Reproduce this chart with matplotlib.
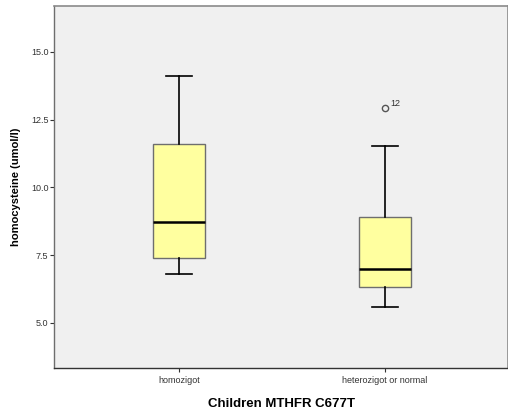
import matplotlib
matplotlib.use("Agg")
import matplotlib.pyplot as plt

plt.rcParams['font.family'] = ['Liberation Sans', 'DejaVu Sans']

# group labels and box statistics
groups = ['homozigot', 'heterozigot or normal']
whislo = [6.79, 5.57]
q1 = [7.38, 6.33]
med = [8.70, 7.00]
q3 = [11.60, 8.90]
whishi = [14.11, 11.51]
fliers = [[], [12.91]]
flier_ids = [[], ['12']]

yticks = [5.0, 7.5, 10.0, 12.5, 15.0]

fig = plt.figure(figsize=(5.08, 4.13), dpi=100)
ax = fig.add_axes([54 / 508, 45 / 413, 454 / 508, 362 / 413])
ax.set_facecolor('#f0f0f0')

stats = []
for i in range(len(groups)):
    stats.append(dict(label=groups[i], whislo=whislo[i], q1=q1[i], med=med[i],
                      q3=q3[i], whishi=whishi[i], fliers=fliers[i]))

positions = [1, 2]
ax.bxp(stats, positions=positions, widths=0.253, patch_artist=True,
       boxprops=dict(facecolor='#ffff9f', edgecolor='#6e6e6e', linewidth=1.0),
       medianprops=dict(color='black', linewidth=1.8),
       whiskerprops=dict(color='black', linewidth=1.2),
       capprops=dict(color='black', linewidth=1.2),
       capwidths=0.125,
       flierprops=dict(marker='o', markersize=4.5, markerfacecolor='none',
                       markeredgecolor='#555555', markeredgewidth=1.0))

for pos, vals, ids in zip(positions, fliers, flier_ids):
    for v, t in zip(vals, ids):
        ax.annotate(t, (pos, v), xytext=(4, 2), textcoords='offset points',
                    fontsize=6.5, color='#333333')

ax.set_xlim(0.391, 2.598)
ax.set_ylim(3.33, 16.69)
ax.set_yticks(yticks)
ax.set_yticklabels([f'{t:.1f}' for t in yticks])
ax.set_xticks(positions)
ax.set_xticklabels(groups)
ax.tick_params(axis='both', labelsize=6.5, colors='#333333', length=3, width=0.8)
ax.tick_params(axis='y', pad=1)
ax.tick_params(axis='x', pad=3)

for s in ['top', 'right']:
    ax.spines[s].set_color('#8a8a8a')
    ax.spines[s].set_linewidth(1.2)
ax.spines['left'].set_color('#6e6e6e')
ax.spines['left'].set_linewidth(1.0)
ax.spines['bottom'].set_color('#333333')
ax.spines['bottom'].set_linewidth(1.0)

ax.set_ylabel('homocysteine (umol/l)', fontsize=8, fontweight='bold', labelpad=7)
ax.set_xlabel('Children MTHFR C677T', fontsize=9.5, fontweight='bold', labelpad=9)

fig.savefig('out.png', dpi=100)
